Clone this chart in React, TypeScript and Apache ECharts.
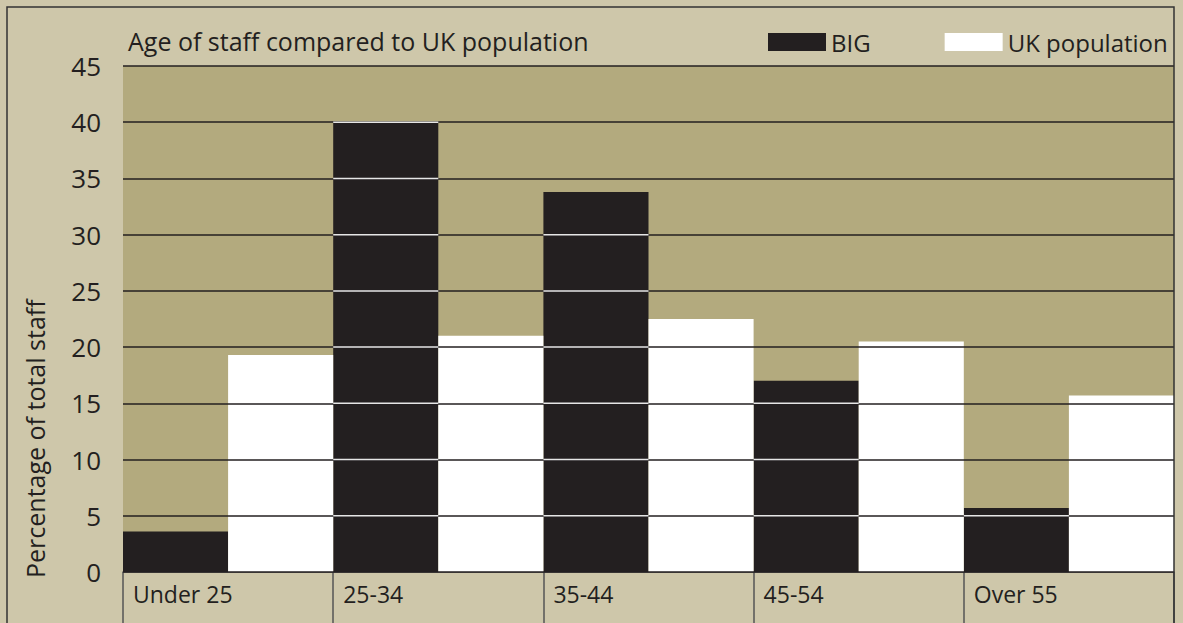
import React, { useEffect, useRef } from "react";
import * as echarts from "echarts";

const CATEGORIES = ["Under 25", "25-34", "35-44", "45-54", "Over 55"];
const BIG = [3.6, 40, 33.8, 17.0, 5.7];
const UK_POP = [19.3, 21.0, 22.5, 20.5, 15.7];
const Y_TICKS = [5, 10, 15, 20, 25, 30, 35, 40, 45];

const TEXT = "#231f20";
const FONT = "'Open Sans', 'Noto Sans', sans-serif";

export default function App() {
  const ref = useRef<HTMLDivElement>(null);
  useEffect(() => {
    if (!ref.current) return;
    const chart = echarts.init(ref.current, undefined, { renderer: "svg" });
    chart.setOption({
      animation: false,
      backgroundColor: "#cec7aa",
      textStyle: { fontFamily: FONT, color: TEXT },
      title: {
        text: "Age of staff compared to UK population",
        left: 123,
        top: 23,
        textStyle: { fontFamily: FONT, fontSize: 25, fontWeight: "normal", color: TEXT },
      },
      legend: {
        left: 763,
        top: 25,
        width: 460,
        itemWidth: 58,
        itemHeight: 18,
        itemGap: 74,
        icon: "rect",
        selectedMode: false,
        data: ["BIG", "UK population"],
        textStyle: { fontFamily: FONT, fontSize: 24, color: TEXT },
      },
      grid: {
        left: 123,
        right: 9,
        top: 66,
        bottom: 51,
        show: true,
        backgroundColor: "#b3aa7e",
        borderWidth: 0,
      },
      xAxis: [
        {
          type: "category",
          data: CATEGORIES,
          axisLine: { show: true, lineStyle: { color: "#555", width: 1.5 } },
          axisTick: { show: false },
          axisLabel: { show: false },
        },
        {
          type: "value",
          min: 0,
          max: 5,
          interval: 1,
          position: "bottom",
          axisLine: { show: false },
          splitLine: { show: false },
          axisTick: { show: true, length: 60, lineStyle: { color: "#555", width: 1.5 } },
          axisLabel: {
            formatter: (v: number) => CATEGORIES[v] ?? "",
            align: "left",
            padding: [0, 0, 0, 10],
            margin: 10,
            fontFamily: FONT,
            fontSize: 23,
            color: TEXT,
          },
        },
      ],
      yAxis: {
        type: "value",
        min: 0,
        max: 45,
        interval: 5,
        z: 10,
        axisLine: { show: false },
        axisTick: { show: false },
        axisLabel: { margin: 22, fontFamily: FONT, fontSize: 26, color: TEXT },
        splitLine: { show: true, lineStyle: { color: TEXT, width: 1.5 } },
      },
      graphic: [
        {
          type: "rect",
          shape: { x: 7, y: 7, width: 1167, height: 700 },
          style: { fill: "none", stroke: "#333", lineWidth: 1.5 },
          z: 100,
          silent: true,
        },
        {
          type: "text",
          x: 35,
          y: 578,
          rotation: Math.PI / 2,
          style: {
            text: "Percentage of total staff",
            fontFamily: FONT,
            fontSize: 25,
            fill: TEXT,
            align: "left",
            verticalAlign: "middle",
          },
        },
      ],
      series: [
        {
          name: "BIG",
          type: "bar",
          data: BIG,
          barGap: "0%",
          barCategoryGap: "0%",
          itemStyle: { color: TEXT },
        },
        {
          name: "UK population",
          type: "bar",
          data: UK_POP,
          barGap: "0%",
          barCategoryGap: "0%",
          itemStyle: { color: "#ffffff" },
        },
        {
          name: "gridOverlay",
          type: "custom",
          z: 20,
          silent: true,
          data: BIG.map((v, i) => [i, v]),
          encode: { x: 0, y: 1 },
          renderItem: (params: any, api: any) => {
            const cat = api.value(0);
            const val = api.value(1);
            const w = api.size([1, 0])[0];
            const children: any[] = [];
            Y_TICKS.forEach((t) => {
              if (t <= val) {
                const p = api.coord([cat, t]);
                children.push({
                  type: "line",
                  shape: { x1: p[0] - w / 2, y1: p[1], x2: p[0], y2: p[1] },
                  style: { stroke: "#e6e6e6", lineWidth: 1.5 },
                });
              }
            });
            return { type: "group", children };
          },
        },
      ],
    });
    return () => chart.dispose();
  }, []);
  return (
    <div
      ref={ref}
      style={{ position: "fixed", left: 0, top: 0, width: 1183, height: 623 }}
    />
  );
}
